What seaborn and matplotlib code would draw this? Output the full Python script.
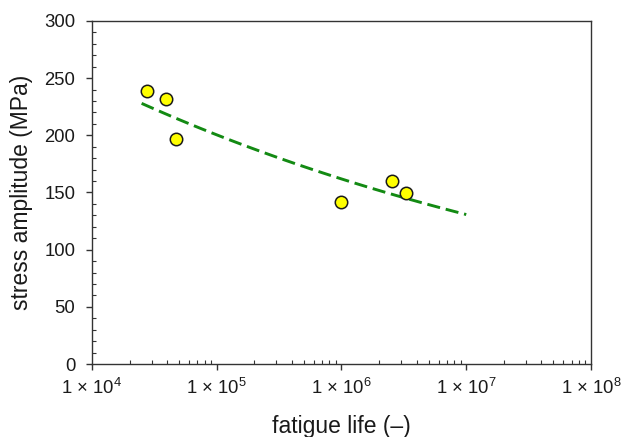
import numpy as np
import pandas as pd
import matplotlib
matplotlib.use("Agg")
import matplotlib.pyplot as plt
from matplotlib.ticker import FixedLocator, NullFormatter, MultipleLocator, LogLocator
import seaborn as sns

# Fatigue test results
cycles = [27450, 39000, 47400, 990000, 2520000, 3290000]
stress = [238.8, 231.5, 196.5, 142.0, 160.3, 149.8]

x_ticks = [1e4, 1e5, 1e6, 1e7, 1e8]
x_tick_labels = [r"1 × 10$^{4}$", r"1 × 10$^{5}$", r"1 × 10$^{6}$",
                 r"1 × 10$^{7}$", r"1 × 10$^{8}$"]
y_ticks = [0, 50, 100, 150, 200, 250, 300]

sns.set_style("white")
plt.rcParams["font.family"] = ["Liberation Sans", "DejaVu Sans"]
plt.rcParams["mathtext.default"] = "regular"

df = pd.DataFrame({"cycles": cycles, "stress": stress})

# Basquin fit S = A * N^b in log-log space
b, logA = np.polyfit(np.log10(df["cycles"]), np.log10(df["stress"]), 1)
n_fit = np.logspace(np.log10(2.5e4), 7, 60)
fit = pd.DataFrame({"cycles": n_fit, "stress": 10 ** logA * n_fit ** b})

fig = plt.figure(figsize=(6.24, 4.37), dpi=100)
ax = fig.add_axes([0.1474, 0.167, 0.7997, 0.785])

sns.lineplot(data=fit, x="cycles", y="stress", ax=ax, color="#138a13",
             linewidth=2.1, dashes=False, zorder=2)
ax.lines[0].set_dashes((4.5, 2.0))
sns.scatterplot(data=df, x="cycles", y="stress", ax=ax, color="#ffff00",
                edgecolor="#1a1a1a", linewidth=1.1, s=80, zorder=3)

ax.set_xscale("log")
ax.set_xlim(1e4, 1e8)
ax.set_ylim(0, 300)

ax.xaxis.set_major_locator(FixedLocator(x_ticks))
ax.set_xticklabels(x_tick_labels)
ax.xaxis.set_minor_locator(LogLocator(base=10, subs=np.arange(2, 10)))
ax.xaxis.set_minor_formatter(NullFormatter())
ax.yaxis.set_major_locator(FixedLocator(y_ticks))
ax.yaxis.set_minor_locator(MultipleLocator(10))

ax.tick_params(which="both", bottom=True, left=True, top=False, right=False)
ax.tick_params(which="major", direction="out", length=4, width=1,
               color="#333333", labelsize=13.3, labelcolor="#1a1a1a", pad=8)
ax.tick_params(which="minor", direction="in", length=3, width=0.8,
               color="#333333")
ax.tick_params(axis="x", which="major", pad=6)

for sp in ax.spines.values():
    sp.set_visible(True)
    sp.set_color("#333333")
    sp.set_linewidth(1.0)

ax.set_xlabel("fatigue life (–)", fontsize=16.5, color="#1a1a1a", labelpad=12)
ax.set_ylabel("stress amplitude (MPa)", fontsize=16.5, color="#1a1a1a", labelpad=8)

fig.savefig("out.png", dpi=100)
